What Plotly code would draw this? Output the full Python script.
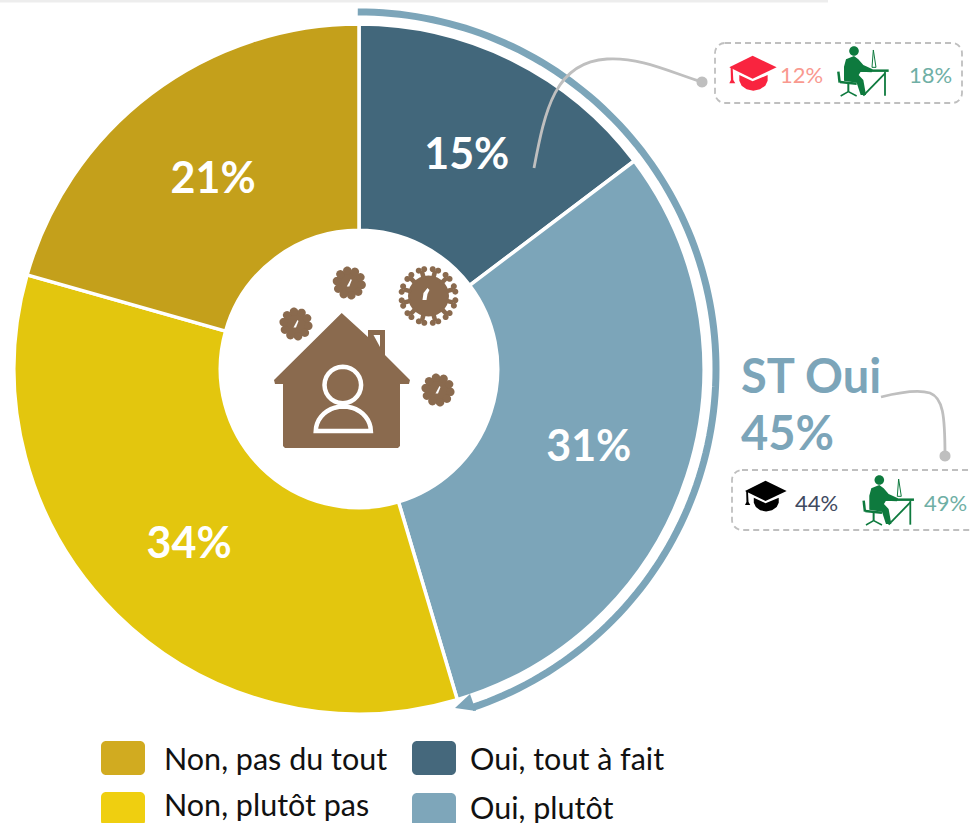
import math
import plotly.graph_objects as go

# ---- data ----
categories = ["Oui, tout à fait", "Oui, plutôt", "Non, plutôt pas", "Non, pas du tout"]
values = [14.7, 30.7, 34.0, 20.6]
value_labels = ["15%", "31%", "34%", "21%"]
slice_colors = ["#42677B", "#7CA5B9", "#E3C60E", "#C4A01B"]
legend_colors = ["#45687C", "#7EA6BA", "#EFCF10", "#D1AB20"]
total_label = "ST Oui"
total_value = "45%"
sub_top = ["12%", "18%"]
sub_bottom = ["44%", "49%"]

W, H = 972, 823
CX, CY, R = 359, 369, 344
PIE_R = 345
FONT = "Lato"
BROWN = "#8A6A4E"
GREY = "#BFBFBF"
GREEN = "#0E7A3E"

shapes, annos = [], []

def fx(x): return x / W
def fy(y): return 1 - y / H

def path_of(pts, close=True):
    s = "M" + " L".join(f"{fx(x):.5f},{fy(y):.5f}" for x, y in pts)
    return s + (" Z" if close else "")

def poly(pts, fill, line=None, lw=0, close=True):
    shapes.append(dict(type="path", xref="paper", yref="paper", path=path_of(pts, close),
                       fillcolor=fill if close else "rgba(0,0,0,0)",
                       line=dict(color=line or "rgba(0,0,0,0)", width=lw)))

def line(pts, color, lw):
    poly(pts, None, color, lw, close=False)

def circ_pts(cx, cy, r, n=28):
    return [(cx + r * math.cos(2 * math.pi * i / n), cy + r * math.sin(2 * math.pi * i / n)) for i in range(n)]

def circle(cx, cy, r, fill, line_c=None, lw=0):
    poly(circ_pts(cx, cy, r), fill, line_c, lw)

def bez(pts, color, lw):
    s = f"M{fx(pts[0][0]):.5f},{fy(pts[0][1]):.5f}"
    for i in range(1, len(pts), 3):
        s += " C" + " ".join(f"{fx(x):.5f},{fy(y):.5f}" for x, y in pts[i:i + 3])
    shapes.append(dict(type="path", xref="paper", yref="paper", path=s,
                       line=dict(color=color, width=lw), fillcolor="rgba(0,0,0,0)"))

def rrect(x0, y0, x1, y1, r, fill=None, lc=None, lw=0, dash=None):
    k = 0.45 * r
    s = f"M{fx(x0 + r):.5f},{fy(y0):.5f} L{fx(x1 - r):.5f},{fy(y0):.5f}"
    def c(a, b, d):
        return " C" + " ".join(f"{fx(u):.5f},{fy(v):.5f}" for u, v in (a, b, d))
    s += c((x1 - k, y0), (x1, y0 + k), (x1, y0 + r)) + f" L{fx(x1):.5f},{fy(y1 - r):.5f}"
    s += c((x1, y1 - k), (x1 - k, y1), (x1 - r, y1)) + f" L{fx(x0 + r):.5f},{fy(y1):.5f}"
    s += c((x0 + k, y1), (x0, y1 - k), (x0, y1 - r)) + f" L{fx(x0):.5f},{fy(y0 + r):.5f}"
    s += c((x0, y0 + k), (x0 + k, y0), (x0 + r, y0)) + " Z"
    ln = dict(color=lc or "rgba(0,0,0,0)", width=lw)
    if dash: ln["dash"] = dash
    shapes.append(dict(type="path", xref="paper", yref="paper", path=s,
                       fillcolor=fill or "rgba(0,0,0,0)", line=ln))

def text(x, y, t, size, color, anchor="left", bold=False):
    annos.append(dict(xref="paper", yref="paper", x=fx(x), y=fy(y), text=f"<b>{t}</b>" if bold else t,
                      showarrow=False, xanchor=anchor, yanchor="middle",
                      xshift=-2 if anchor == "left" else 0,
                      font=dict(family=FONT, size=size, color=color)))

# ---- page shadow on top edge ----
poly([(0, 0), (828, 0), (828, 2.5), (0, 2.5)], "#EDEDED")

# ---- bracket arc following the first two slices ----
end_share = (values[0] + values[1]) / sum(values)
ARC_R = 357
arc = []
for i in range(121):
    a = math.radians(-0.2 + (end_share * 360 - 1.9 + 0.2) * i / 120)
    arc.append((CX + ARC_R * math.sin(a), CY - ARC_R * math.cos(a)))
line(arc, "#7CA5B9", 7)
poly([(455, 708), (476, 711), (470, 694)], "#7CA5B9")

# ---- connectors ----
bez([(534, 168), (545, 110), (555, 62), (607, 59), (640, 57), (670, 72), (702, 82)], GREY, 2.8)
circle(702, 82, 5.5, GREY)
bez([(881, 397), (905, 391), (920, 390), (930, 393), (943, 398), (945, 415), (945, 456)], GREY, 2.8)
circle(945, 456, 5.5, GREY)

# ---- dashed boxes ----
rrect(715, 43, 962, 103, 10, lc=GREY, lw=1.8, dash="6px,4px")
rrect(732, 470, 990, 530, 10, lc=GREY, lw=1.8, dash="6px,4px")

# ---- icons ----
def cap(x0, y0, s, col):
    P = lambda pts: [(x0 + (u - 88) / 3 * s, y0 + (v - 77) / 3 * s) for u, v in pts]
    poly(P([(88, 112), (158, 77), (230, 112), (158, 146)]), col)
    body = [(118, 135), (158, 154), (203, 135), (203, 152), (196, 167), (180, 178), (160, 182),
            (140, 178), (125, 167), (118, 152)]
    poly(P(body), col)
    poly(P([(92, 112), (98, 112), (100, 150), (106, 160), (88, 160), (93, 150)]), col)

cap(729.3, 55.7, 1.0, "#F9243F")
cap(745, 480.7, 0.88, "#000000")

def desk(dx, dy):
    P = lambda pts: [(dx + (u - 462) / 3, dy + (v - 63) / 3) for u, v in pts]
    circle(dx, dy, 4.8, GREEN)
    poly(P([(438, 88), (462, 78), (475, 88), (490, 105), (518, 118), (515, 127), (482, 125), (476, 135),
            (490, 150), (498, 195), (482, 195), (470, 158), (432, 152), (432, 110)]), GREEN)
    line(P([(415, 125), (419, 158)]), GREEN, 2.5)
    line(P([(420, 156), (470, 161)]), GREEN, 2.5)
    line(P([(445, 160), (445, 185)]), GREEN, 2)
    line(P([(422, 198), (445, 185), (470, 198)]), GREEN, 1.5)
    line(P([(475, 122), (566, 122)]), GREEN, 2.5)
    line(P([(555, 125), (555, 197)]), GREEN, 1.8)
    line(P([(555, 130), (490, 197)]), GREEN, 1.8)
    line(P([(520, 60), (516, 112), (528, 112), (520, 60)]), GREEN, 1)

desk(854, 51)
desk(879.3, 480)

# house
poly([(341.7, 313), (368, 337), (368, 330), (385, 330), (385, 355), (410, 380), (409, 384), (400, 384),
      (400, 446), (398, 448), (285, 448), (283, 446), (283, 384), (275, 384), (274, 380)], BROWN)
poly([(373.5, 335), (380, 335), (380, 347)], "#FFFFFF")
circle(342.8, 385, 18.3, BROWN, "#FFFFFF", 4.5)
torso = []
for i in range(0, 21):
    a = math.pi * i / 20
    torso.append((343.3 + 27.5 * math.cos(a), 431 - 24.5 * math.sin(a)))
poly(torso, BROWN, "#FFFFFF", 4.5)

def small_virus(cx, cy):
    circle(cx, cy, 12, BROWN)
    for k in range(10):
        a = 2 * math.pi * k / 10 + 0.15
        circle(cx + 12.5 * math.cos(a), cy + 12.5 * math.sin(a), 4.2, BROWN)
    poly([(cx - 2.5, cy + 3.5), (cx + 1.5, cy - 4), (cx + 2.5, cy - 3), (cx, cy + 3.5)], "#FFFFFF")

small_virus(349.3, 283)
small_virus(296, 324)
small_virus(438, 390)

def big_virus(cx, cy):
    circle(cx, cy, 20.5, BROWN)
    for k in range(12):
        a = 2 * math.pi * k / 12 + 0.26
        ca, sa = math.cos(a), math.sin(a)
        line([(cx + 18 * ca, cy + 18 * sa), (cx + 26 * ca, cy + 26 * sa)], BROWN, 4.5)
        circle(cx + 27 * ca - 2.8 * sa, cy + 27 * sa + 2.8 * ca, 3, BROWN)
        circle(cx + 27 * ca + 2.8 * sa, cy + 27 * sa - 2.8 * ca, 3, BROWN)
    poly([(cx - 6, cy + 4), (cx - 5, cy - 3), (cx - 1, cy - 8), (cx + 1, cy - 6),
          (cx - 1, cy - 2), (cx - 2, cy + 4)], "#FFFFFF")

big_virus(428.5, 296)

# ---- side texts ----
text(741, 375, total_label, 47, "#7CA5B9", bold=True)
text(741, 432, total_value, 47, "#7CA5B9", bold=True)
text(780, 74, sub_top[0], 22, "#F9998F")
text(909, 74, sub_top[1], 22, "#6FAFA5")
text(795, 502, sub_bottom[0], 22, "#3F4A5F")
text(924, 502, sub_bottom[1], 22, "#6FAFA5")

# ---- legend ----
legend_pos = {"Non, pas du tout": (101, 758, 758, 164), "Non, plutôt pas": (101, 809, 804, 164),
              "Oui, tout à fait": (412, 758, 758, 470), "Oui, plutôt": (412, 810, 807, 470)}
for name, col in zip(categories, legend_colors):
    x, y, ty, tx = legend_pos[name]
    rrect(x, y - 17, x + 44, y + 17, 5, fill=col)
    text(tx, ty, name, 30.5, "#111111")

fig = go.Figure(go.Pie(
    labels=categories, values=values, text=value_labels, textinfo="text",
    textposition="inside", insidetextorientation="horizontal",
    insidetextfont=dict(family=FONT, size=43, color="#FFFFFF", weight="bold"),
    sort=False, direction="clockwise", rotation=0, hole=0.402,
    marker=dict(colors=slice_colors, line=dict(color="#FFFFFF", width=3.5)),
    domain=dict(x=[(CX - PIE_R) / W, (CX + PIE_R) / W], y=[1 - (CY + PIE_R) / H, 1 - (CY - PIE_R) / H]),
    showlegend=False, hoverinfo="label+percent",
))
fig.update_layout(width=W, height=H, margin=dict(l=0, r=0, t=0, b=0), paper_bgcolor="#FFFFFF",
                  shapes=shapes, annotations=annos, font=dict(family=FONT), showlegend=False)
fig.write_html("out.html", config=dict(displayModeBar=False),
               post_script="document.body.style.margin='0';document.documentElement.style.overflow='hidden';")
